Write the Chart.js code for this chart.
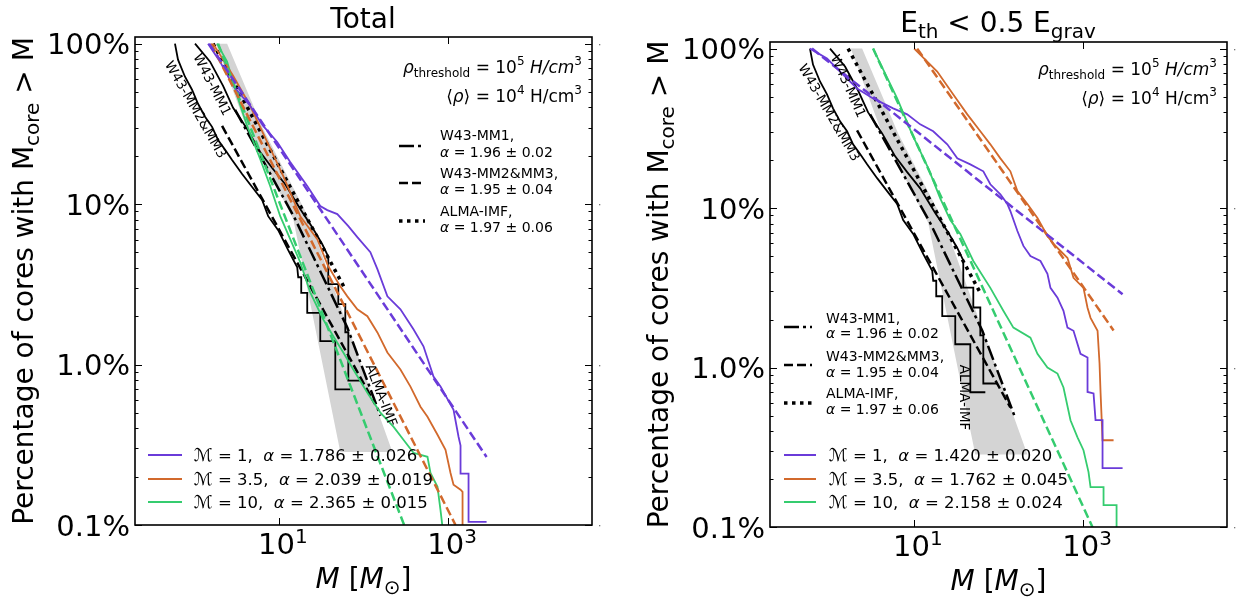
<!DOCTYPE html>
<html>
<head>
<meta charset="utf-8">
<title>Core mass cumulative distributions</title>
<script src="https://cdn.jsdelivr.net/npm/chart.js@4.4.1/dist/chart.umd.min.js"></script>
<style>
  html, body { margin: 0; padding: 0; background: #ffffff; }
  #figure { position: relative; width: 1239px; height: 597px; overflow: hidden; background: #ffffff; }
  #figure canvas { position: absolute; top: 0; }
  #total { left: 0; }
  #bound { left: 620px; }
</style>
</head>
<body>
<div id="figure">
  <canvas id="total" width="620" height="597"></canvas>
  <canvas id="bound" width="619" height="597"></canvas>
</div>
<script>
// ---- axis limits and ticks -------------------------------------------
const X_MIN = 0.2, X_MAX = 5e4;
const Y_MIN = 0.1, Y_MAX = 110;
const yTickValues = [0.1, 1, 10, 100];
const yTickLabels = ['0.1%', '1.0%', '10%', '100%'];
const xTickValues = [10, 1000];
const xTickExponents = ['1', '3'];

// ---- observed core samples (same in both panels) ---------------------
const mm23Mass = [0.593, 0.644, 0.779, 0.943, 1.11, 1.344, 1.627, 1.915, 2.318, 2.805, 3.684, 4.837, 6.353, 7.482, 9.824, 12.90, 16.49, 16.94, 18.39, 18.39, 21.65, 21.65, 30.85, 30.85, 46.45, 46.45, 69.88];
const mm23Pct  = [100, 79.4, 62.2, 51.6, 42.2, 35.0, 30.3, 25.1, 21.8, 18.8, 15.4, 12.77, 10.6, 8.41, 6.88, 5.16, 4.04, 3.5, 3.5, 2.8, 2.8, 2.1, 2.1, 1.4, 1.4, 0.7, 0.7];

const mm1Mass = [1.023, 1.540, 2.195, 2.882, 4.221, 6.017, 8.343, 11.89, 17.89, 24.81, 32.59, 38.37, 38.37, 50.40, 50.40, 60.98, 60.98, 66.17, 66.17, 96.92];
const mm1Pct  = [100, 77.2, 54.6, 39.8, 29.4, 21.1, 16.8, 13.3, 9.31, 7.18, 5.62, 4.7, 3.17, 3.17, 2.38, 2.38, 1.59, 1.59, 0.794, 0.794];

// published power-law fits of the observed samples
const mm1FitMass  = [3.044, 15.61, 64.40, 158.3];
const mm1FitPct   = [38.7, 8.06, 1.70, 0.48];
const mm23FitMass = [2.136, 138.1];
const mm23FitPct  = [30.7, 0.562];
const almaFitMass = [1.672, 60.98];
const almaFitPct  = [100, 2.94];

// ALMA-IMF spread
const almaBandMass = [1.80, 2.45, 6.529, 22.87, 219.5, 53.21, 14.79, 4.221];
const almaBandPct  = [100, 100, 29.4, 8.06, 0.285, 0.285, 8.06, 29.4];

const obsNames = ['W43-MM1,', 'W43-MM2&MM3,', 'ALMA-IMF,'];
const obsAlpha = ['1.96 ± 0.02', '1.95 ± 0.04', '1.97 ± 0.06'];

// ---- simulated cores: Mach numbers ------------------------------------
const machLabels = ['1', '3.5', '10'];

// panel "Total"
const totalM1Mass = [1.458, 2.022, 2.882, 4.580, 6.529, 9.561, 13.62, 21.65, 30.85, 37.34, 49.04, 66.17, 84.56, 120.5, 145.9, 191.5, 273.0, 389.1, 510.9, 671.0, 812.1, 1157, 1326, 1400, 1400, 1741, 1741, 2843];
const totalM1Pct  = [100, 77.2, 54.6, 41.0, 30.7, 24.4, 18.3, 12.96, 9.72, 9.17, 8.66, 7.29, 6.22, 5.01, 3.93, 2.66, 2.21, 1.66, 1.30, 0.841, 0.729, 0.523, 0.355, 0.313, 0.209, 0.209, 0.1045, 0.1045];
const totalM35Mass = [1.672, 2.882, 4.580, 7.279, 11.26, 17.89, 28.44, 38.37, 53.21, 64.40, 84.56, 111.1, 145.9, 191.5, 273.0, 358.5, 470.9, 569.7, 748.2, 930.4, 1066, 1157, 1400, 1479, 1479];
const totalM35Pct  = [100, 63.1, 41.0, 24.4, 15.0, 8.41, 6.04, 4.10, 3.07, 2.66, 2.21, 2.00, 1.585, 1.19, 0.931, 0.729, 0.546, 0.473, 0.365, 0.294, 0.211, 0.178, 0.166, 0.161, 0.086];
const totalM10Mass = [1.864, 2.448, 3.215, 4.221, 6.017, 7.900, 10.38, 13.62, 17.89, 23.50, 33.49, 43.98, 57.74, 75.84, 111.1, 158.3, 225.6, 296.3, 389.1, 569.7, 618.3, 748.2, 812.1, 881.0];
const totalM10Pct  = [100, 77.2, 47.3, 30.7, 19.1, 12.96, 8.41, 6.04, 4.34, 2.82, 1.91, 1.50, 1.19, 0.931, 0.668, 0.501, 0.410, 0.340, 0.282, 0.266, 0.211, 0.173, 0.124, 0.086];
const totalAlpha    = [1.786, 2.039, 2.365];
const totalAlphaErr = [0.026, 0.019, 0.015];
const totalFitRange = [[1.50, 2843], [1.583, 1222], [1.915, 302]];

// panel "E_th < 0.5 E_grav"
const boundM1Mass = [0.593, 0.943, 1.344, 2.136, 3.303, 5.696, 8.343, 11.89, 16.94, 24.81, 32.59, 46.45, 66.17, 80.08, 105.2, 127.3, 138.1, 167.2, 196.8, 238.2, 312.9, 378.6, 410.9, 497.3, 585.5, 652.9, 768.9, 930.4, 1126, 1126, 1326, 1400, 1694, 1694, 2922];
const boundM1Pct  = [100, 86.6, 71.8, 56.2, 48.7, 42.2, 38.7, 33.5, 30.3, 25.1, 20.5, 18.8, 17.0, 14.1, 12.2, 10.6, 9.58, 7.18, 5.79, 5.01, 4.66, 3.87, 3.16, 2.74, 2.27, 1.78, 1.70, 1.22, 1.155, 0.703, 0.688, 0.468, 0.468, 0.234, 0.234];
const boundM35Mass = [10.09, 11.89, 18.89, 29.23, 42.80, 60.98, 80.08, 105.2, 138.1, 167.2, 219.5, 288.4, 378.6, 445.9, 539.5, 652.9, 768.9, 1009, 1126, 1222, 1479, 1561, 1605, 1694, 2287];
const boundM35Pct  = [100, 91.7, 71.8, 51.6, 38.7, 30.3, 25.1, 20.5, 17.0, 12.77, 10.6, 8.66, 6.68, 5.96, 5.38, 4.87, 3.65, 3.16, 2.37, 2.05, 1.70, 1.06, 0.698, 0.350, 0.350];
const boundM10Mass = [3.303, 6.353, 9.561, 14.79, 20.50, 26.93, 35.36, 50.40, 80.08, 114.1, 149.9, 238.2, 288.4, 378.6, 497.3, 585.5, 708.6, 857.5, 1009, 1157, 1222, 1741, 1741, 2481, 2481];
const boundM10Pct  = [100, 48.7, 29.0, 17.8, 11.5, 8.41, 6.88, 4.66, 3.16, 2.27, 1.78, 1.54, 1.22, 1.00, 0.917, 0.750, 0.467, 0.365, 0.303, 0.221, 0.178, 0.178, 0.137, 0.137, 0.086];
const boundAlpha    = [1.420, 1.762, 2.158];
const boundAlphaErr = [0.020, 0.045, 0.024];
const boundFitRange = [[0.627, 2922], [10.96, 2287], [3.303, 1291]];

// ---- styling ------------------------------------------------------------
const MACH_COLORS = ['#6a3bd9', '#d2692c', '#35cc6f'];
const BAND_COLOR = '#d4d4d4';
const DASH = [9, 4];
const DASH_DOT = [15, 4, 3, 4];
const DOTS = [3.5, 4.5];
const FONT = '"DejaVu Sans", "Noto Sans", sans-serif';
const fnt = (size, italic) => (italic ? 'italic ' : '') + size + 'px ' + FONT;

function curve(mass, pct, style) {
  return Object.assign({
    data: mass.map((m, i) => ({ x: m, y: pct[i] })),
    showLine: true, pointRadius: 0, pointHoverRadius: 0, pointHitRadius: 0,
    tension: 0, fill: false, clip: 0,
    borderCapStyle: 'butt', borderJoinStyle: 'miter', borderDash: []
  }, style);
}

// straight power-law fit: the cumulative fraction falls as M^(1 - alpha)
function powerLaw(range, alpha) {
  const [m0, m1] = range;
  return { mass: [m0, m1], pct: [100, 100 * Math.pow(m1 / m0, 1 - alpha)] };
}

function buildDatasets(sim) {
  const sets = [
    curve(almaBandMass, almaBandPct, { borderWidth: 0, borderColor: 'rgba(0,0,0,0)', backgroundColor: BAND_COLOR, fill: 'shape', order: 10 }),
    curve(mm23Mass, mm23Pct, { borderColor: '#000', borderWidth: 1.8, order: 6 }),
    curve(mm1Mass, mm1Pct, { borderColor: '#000', borderWidth: 1.8, order: 6 }),
    curve(mm23FitMass, mm23FitPct, { borderColor: '#000', borderWidth: 2.5, borderDash: DASH, order: 5 }),
    curve(mm1FitMass, mm1FitPct, { borderColor: '#000', borderWidth: 2.5, borderDash: DASH_DOT, order: 5 }),
    curve(almaFitMass, almaFitPct, { borderColor: '#000', borderWidth: 3.5, borderDash: DOTS, order: 5 })
  ];
  sim.curves.forEach((c, k) => {
    sets.push(curve(c[0], c[1], { borderColor: MACH_COLORS[k], borderWidth: 1.8, order: 2 }));
    const fit = powerLaw(sim.fitRange[k], sim.alpha[k]);
    sets.push(curve(fit.mass, fit.pct, { borderColor: MACH_COLORS[k], borderWidth: 2.5, borderDash: DASH, order: 1 }));
  });
  return sets;
}

// ---- text helpers ---------------------------------------------------------
function runsWidth(ctx, runs, base) {
  let w = 0;
  for (const r of runs) { ctx.font = fnt(r.s || base, r.i); w += ctx.measureText(r.t).width; }
  return w;
}
function drawRuns(ctx, runs, x, y, align, base) {
  const w = runsWidth(ctx, runs, base);
  let cx = align === 'right' ? x - w : (align === 'center' ? x - w / 2 : x);
  ctx.textAlign = 'left';
  ctx.textBaseline = 'alphabetic';
  for (const r of runs) {
    ctx.font = fnt(r.s || base, r.i);
    ctx.fillText(r.t, cx, y + (r.dy || 0));
    cx += ctx.measureText(r.t).width;
  }
}
function seg(ctx, x0, y0, x1, y1) { ctx.beginPath(); ctx.moveTo(x0, y0); ctx.lineTo(x1, y1); ctx.stroke(); }

// ---- frame, ticks, labels, legends ----------------------------------------
function decorations(layout, sim) {
  return {
    id: 'decor',
    afterDraw(chart) {
      const ctx = chart.ctx;
      const { left, right, top, bottom } = chart.chartArea;
      const xs = chart.scales.x, ys = chart.scales.y;
      ctx.save();
      ctx.fillStyle = '#000';
      ctx.strokeStyle = '#000';
      ctx.setLineDash([]);

      // frame
      ctx.lineWidth = 1.6;
      ctx.strokeRect(left, top, right - left, bottom - top);

      // y ticks (inward, both sides)
      ctx.lineWidth = 1;
      for (let e = -1; e <= 2; e++) {
        for (let k = 1; k <= 9; k++) {
          const v = k * Math.pow(10, e);
          if (v < Y_MIN || v > Y_MAX) continue;
          const y = Math.round(ys.getPixelForValue(v)) + 0.5;
          const len = k === 1 ? 7 : 3.5;
          seg(ctx, left, y, left + len, y);
          seg(ctx, right - len, y, right, y);
        }
      }
      // faint marks beside the right frame
      ctx.fillStyle = '#777';
      yTickValues.forEach(v => ctx.fillRect(right + 7, Math.round(ys.getPixelForValue(v)), 1.3, 1.3));
      ctx.fillStyle = '#000';

      // x ticks (inward, top and bottom)
      xTickValues.forEach(v => {
        const x = Math.round(xs.getPixelForValue(v)) + 0.5;
        seg(ctx, x, bottom, x, bottom - 7);
        seg(ctx, x, top, x, top + 7);
      });

      // tick labels
      ctx.textAlign = 'right';
      ctx.textBaseline = 'alphabetic';
      ctx.font = fnt(29);
      yTickValues.forEach((v, i) => ctx.fillText(yTickLabels[i], left - 5, ys.getPixelForValue(v) + 10.5));
      xTickValues.forEach((v, i) => {
        drawRuns(ctx, [{ t: '10' }, { t: xTickExponents[i], s: 20, dy: -11.5 }], xs.getPixelForValue(v) + 4, bottom + 29, 'center', 29);
      });

      // axis titles and panel title
      drawRuns(ctx, layout.title, layout.titleX, layout.titleY, 'center', 28);
      drawRuns(ctx, [{ t: 'M', i: 1 }, { t: ' [' }, { t: 'M', i: 1 }, { t: '⊙', s: 20, dy: 6 }, { t: ']' }],
        (left + right) / 2, layout.xLabelY, 'center', 28);
      ctx.save();
      ctx.translate(layout.yLabelX, (top + bottom) / 2);
      ctx.rotate(-Math.PI / 2);
      drawRuns(ctx, [{ t: 'Percentage of cores with M' }, { t: 'core', s: 20, dy: 6 }, { t: ' > M' }], 0, 0, 'center', 28);
      ctx.restore();

      // density annotations
      drawRuns(ctx, [{ t: 'ρ', i: 1 }, { t: 'threshold', s: 12, dy: 4 }, { t: ' = 10' }, { t: '5', s: 12, dy: -8 }, { t: ' ' }, { t: 'H/cm', i: 1 }, { t: '3', s: 12, dy: -8 }],
        right - 10, layout.rhoY[0], 'right', 17);
      drawRuns(ctx, [{ t: '⟨' }, { t: 'ρ', i: 1 }, { t: '⟩ = 10' }, { t: '4', s: 12, dy: -8 }, { t: ' H/cm' }, { t: '3', s: 12, dy: -8 }],
        right - 10, layout.rhoY[1], 'right', 17);

      // labels along the observed curves
      ctx.font = fnt(13.5);
      ctx.textAlign = 'center';
      ctx.textBaseline = 'middle';
      layout.curveLabels.forEach(l => {
        ctx.save();
        ctx.translate(l.x, l.y);
        ctx.rotate(l.a * Math.PI / 180);
        ctx.fillText(l.t, 0, 0);
        ctx.restore();
      });

      // legend of observed fits
      const bl = layout.obsLegend;
      const obsStyles = [[2.5, DASH_DOT], [2.5, DASH], [3.5, DOTS]];
      obsNames.forEach((name, i) => {
        ctx.lineWidth = obsStyles[i][0];
        ctx.setLineDash(obsStyles[i][1]);
        seg(ctx, bl.x0, bl.y[i], bl.x1, bl.y[i]);
        ctx.setLineDash([]);
        drawRuns(ctx, [{ t: name }], bl.tx, bl.ty[i][0], 'left', 14);
        drawRuns(ctx, [{ t: 'α', i: 1 }, { t: ' = ' + obsAlpha[i] }], bl.tx, bl.ty[i][1], 'left', 14);
      });

      // legend of simulated samples
      const cl = layout.simLegend;
      machLabels.forEach((mach, k) => {
        ctx.strokeStyle = MACH_COLORS[k];
        ctx.lineWidth = 2;
        seg(ctx, cl.x0, cl.y[k], cl.x1, cl.y[k]);
        ctx.fillStyle = '#000';
        drawRuns(ctx, [{ t: 'ℳ', s: 17.5 }, { t: ' = ' + mach + ',  ' }, { t: 'α', i: 1 },
          { t: ' = ' + sim.alpha[k].toFixed(3) + ' ± ' + sim.alphaErr[k].toFixed(3) }], cl.tx, cl.y[k] + 6, 'left', 16.5);
      });
      ctx.restore();
    }
  };
}

function makePanel(canvasId, padding, sim, layout) {
  return new Chart(document.getElementById(canvasId), {
    type: 'scatter',
    data: { datasets: buildDatasets(sim) },
    options: {
      responsive: false, animation: false, devicePixelRatio: 1, events: [],
      layout: { padding },
      scales: {
        x: { type: 'logarithmic', min: X_MIN, max: X_MAX, bounds: 'data', display: false },
        y: { type: 'logarithmic', min: Y_MIN, max: Y_MAX, bounds: 'data', display: false }
      },
      plugins: { legend: { display: false }, tooltip: { enabled: false } }
    },
    plugins: [decorations(layout, sim)]
  });
}

makePanel('total', { left: 135, right: 28, top: 37, bottom: 72 }, {
  curves: [[totalM1Mass, totalM1Pct], [totalM35Mass, totalM35Pct], [totalM10Mass, totalM10Pct]],
  alpha: totalAlpha, alphaErr: totalAlphaErr, fitRange: totalFitRange
}, {
  title: [{ t: 'Total' }], titleX: 363, titleY: 28,
  xLabelY: 588, yLabelX: 33, rhoY: [73, 102],
  curveLabels: [
    { t: 'W43-MM2&MM3', x: 195, y: 110, a: 60 },
    { t: 'W43-MM1', x: 211.5, y: 85, a: 63 },
    { t: 'ALMA-IMF', x: 380.5, y: 395.5, a: 69 }
  ],
  obsLegend: { x0: 399, x1: 425, tx: 440, y: [146, 183, 221], ty: [[140, 157], [178, 194], [216, 232]] },
  simLegend: { x0: 148, x1: 182, tx: 194, y: [455, 479, 502] }
});

makePanel('bound', { left: 150, right: 12, top: 42, bottom: 70 }, {
  curves: [[boundM1Mass, boundM1Pct], [boundM35Mass, boundM35Pct], [boundM10Mass, boundM10Pct]],
  alpha: boundAlpha, alphaErr: boundAlphaErr, fitRange: boundFitRange
}, {
  title: [{ t: 'E' }, { t: 'th', s: 20, dy: 6 }, { t: ' < 0.5 E' }, { t: 'grav', s: 20, dy: 6 }], titleX: 378, titleY: 32,
  xLabelY: 590, yLabelX: 48, rhoY: [75, 104],
  curveLabels: [
    { t: 'W43-MM2&MM3', x: 208.5, y: 113, a: 60 },
    { t: 'W43-MM1', x: 227.5, y: 86.5, a: 66 },
    { t: 'ALMA-IMF', x: 343.5, y: 397.5, a: 90 }
  ],
  obsLegend: { x0: 164, x1: 192, tx: 206, y: [327, 365, 403], ty: [[323, 338], [361, 377], [398, 414]] },
  simLegend: { x0: 164, x1: 196, tx: 209, y: [455, 479, 502] }
});
</script>
</body>
</html>
